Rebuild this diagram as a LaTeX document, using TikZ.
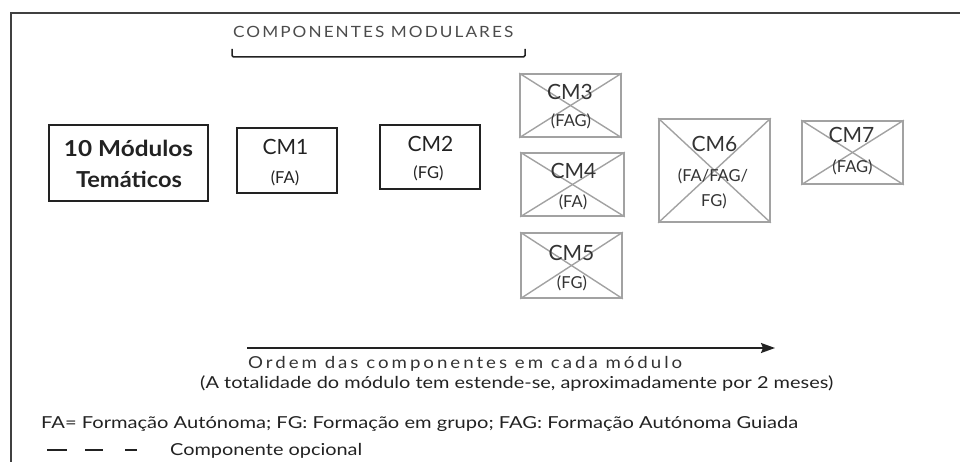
\documentclass[tikz,border=0pt]{standalone}
\usepackage{fontspec}
\setmainfont{Lato}
\usetikzlibrary{arrows.meta}
\newcommand{\fitw}[2]{\resizebox{#1}{\height}{#2}}
\definecolor{ink}{HTML}{222222}
\definecolor{grayline}{HTML}{A2A2A2}
\definecolor{graytext}{HTML}{333333}
\tikzset{
  blackbox/.style={draw=ink, line width=1.5pt, rectangle, inner sep=0pt},
  graybox/.style={draw=grayline, line width=1.6pt, rectangle, inner sep=0pt},
  crossline/.style={draw=grayline, line width=1.4pt},
  cmtext/.style={inner sep=0pt, anchor=base, text=ink, font=\fontsize{21}{24}\selectfont},
  subtext/.style={inner sep=0pt, anchor=base, text=ink, font=\fontsize{16.5}{18}\selectfont},
  gcmtext/.style={cmtext, text=graytext},
  gsubtext/.style={subtext, text=graytext},
  bodytext/.style={inner sep=0pt, anchor=base west, text=ink, font=\fontsize{16.5}{19}\selectfont},
  frameline/.style={draw=black!75, line width=2pt},
}
\begin{document}
\begin{tikzpicture}[x=1pt,y=-1pt]
\useasboundingbox (0,0) rectangle (960,462);
% frame
\coordinate (fTR) at (960,13.5);
\coordinate (fTL) at (11,13.5);
\coordinate (fBL) at (11,462);
\draw[frameline] (fTR) -- (fTL) -- (fBL);

% header
\node[inner sep=0pt, anchor=base west, text=black!70, font=\fontsize{15.5}{17}\selectfont] (hdr) at (233,38)
  {\fitw{280pt}{\addfontfeatures{LetterSpace=12}COMPONENTES MODULARES}};
\coordinate (brA) at (232,49);
\coordinate (brB) at (232,57);
\coordinate (brC) at (525,57);
\coordinate (brD) at (525,49);
\draw[draw=ink, line width=1.5pt, rounded corners=1.5pt] (brA) -- (brB) -- (brC) -- (brD);

% main box
\node[blackbox, minimum width=159pt, minimum height=76pt] (tm) at (128.5,163) {};
\node[inner sep=0pt, anchor=base, text=ink, font=\fontsize{22}{24}\selectfont\bfseries] (tm1) at (128.5,157) {\fitw{129pt}{10 Módulos}};
\node[inner sep=0pt, anchor=base, text=ink, font=\fontsize{22}{24}\selectfont\bfseries] (tm2) at (129,188) {\fitw{106pt}{Temáticos}};

% CM1, CM2
\node[blackbox, minimum width=100pt, minimum height=65pt] (cm1) at (287,160.5) {};
\node[cmtext] (cm1a) at (285.5,155) {CM1};
\node[subtext] (cm1b) at (285,184) {(FA)};
\node[blackbox, minimum width=100pt, minimum height=64pt] (cm2) at (430,157) {};
\node[cmtext] (cm2a) at (430.5,152) {CM2};
\node[subtext] (cm2b) at (428.5,179) {(FG)};

% optional (crossed) components
\node[graybox, minimum width=101pt, minimum height=63pt] (cm3) at (570.5,105.5) {};
\node[graybox, minimum width=103pt, minimum height=63pt] (cm4) at (572.5,184.5) {};
\node[graybox, minimum width=101pt, minimum height=65pt] (cm5) at (571.5,265.5) {};
\node[graybox, minimum width=111pt, minimum height=103pt] (cm6) at (714.5,170.5) {};
\node[graybox, minimum width=101pt, minimum height=63pt] (cm7) at (852.5,152.5) {};
\foreach \n in {cm3,cm4,cm5,cm6,cm7}{
  \draw[crossline] (\n.north west) -- (\n.south east);
  \draw[crossline] (\n.south west) -- (\n.north east);
}
\node[gcmtext] (cm3a) at (570,100) {CM3};
\node[gsubtext] (cm3b) at (571,127) {(FAG)};
\node[gcmtext] (cm4a) at (573.5,179) {CM4};
\node[gsubtext] (cm4b) at (573,208) {(FA)};
\node[gcmtext] (cm5a) at (571.5,260) {CM5};
\node[gsubtext] (cm5b) at (572,288) {(FG)};
\node[gcmtext] (cm6a) at (714.5,152) {CM6};
\node[gsubtext] (cm6b) at (713,182) {(FA/FAG/};
\node[gsubtext] (cm6c) at (714,207) {FG)};
\node[gcmtext] (cm7a) at (851.5,143) {CM7};
\node[gsubtext] (cm7b) at (852.5,173) {(FAG)};

% order arrow
\coordinate (arrS) at (247,348);
\coordinate (arrE) at (775,348);
\draw[draw=ink, line width=1.8pt, -{Stealth[length=14pt, width=10pt, inset=2pt]}] (arrS) -- (arrE);
\node[bodytext, text=black!80, font=\fontsize{16.5}{19}\selectfont] (ord) at (248,368)
  {\fitw{434pt}{\addfontfeatures{LetterSpace=16}Ordem das componentes em cada módulo}};
\node[bodytext] (tot) at (200,388)
  {\fitw{633pt}{(A totalidade do módulo tem estende-se, aproximadamente por 2 meses)}};

% legend
\node[bodytext] (leg1) at (41,428)
  {\fitw{757pt}{FA= Formação Autónoma; FG: Formação em grupo; FAG: Formação Autónoma Guiada}};
\coordinate (d1a) at (47,450);  \coordinate (d1b) at (67,450);
\coordinate (d2a) at (85,450);  \coordinate (d2b) at (103,450);
\coordinate (d3a) at (125,450); \coordinate (d3b) at (137,450);
\draw[draw=ink, line width=1.8pt] (d1a) -- (d1b) (d2a) -- (d2b) (d3a) -- (d3b);
\node[bodytext] (leg2) at (170,455) {\fitw{192pt}{Componente opcional}};
\end{tikzpicture}
\end{document}
